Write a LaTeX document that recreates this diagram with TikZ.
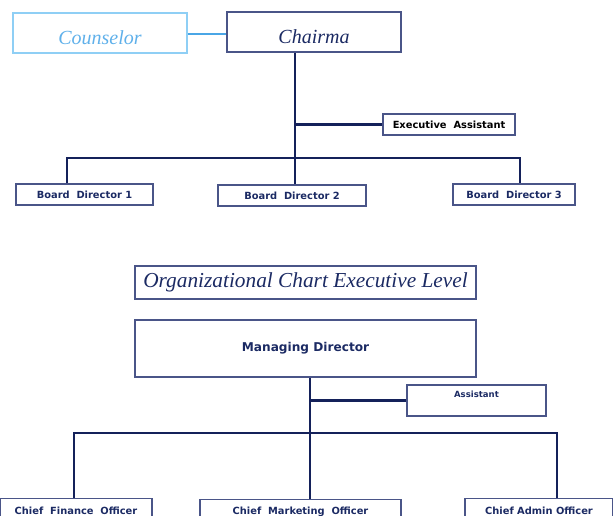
\documentclass[tikz,border=0pt]{standalone}
\usepackage{fontspec}
\setmainfont{Liberation Serif}
\newfontfamily\boxfont{DejaVu Sans}
\usepackage{tikz}

\definecolor{navy}{HTML}{14215A}
\definecolor{boxline}{HTML}{4A5588}
\definecolor{navytext}{HTML}{1B2A63}
\definecolor{skyline}{HTML}{8FCFF5}
\definecolor{skytext}{HTML}{5FB0EA}
\definecolor{skylink}{HTML}{4AA6E6}

\begin{document}
\begin{tikzpicture}[x=0.75pt, y=-0.75pt,
        every node/.style={rectangle, draw=boxline, line width=0.9pt, inner sep=0pt, text=navytext},
        post/.style={font=\boxfont\bfseries\fontsize{7.4}{9}\selectfont},
        head/.style={font=\itshape\fontsize{15}{18}\selectfont, text height=18pt, text depth=0pt},
        link/.style={draw=navy, line width=1.8pt}]
        \useasboundingbox (0,0) rectangle (613,516);
        \clip (0,0) rectangle (613,516);
        % Vertices
        \node[head, draw=skyline, text=skytext, minimum width=130.5pt, minimum height=30pt] (Couns) at (100,33) {Counselor};
        \node[head, minimum width=130.5pt, minimum height=30pt] (Chair) at (314,32) {Chairma};
        \node[post, text=black, minimum width=99pt, minimum height=15.75pt] (Exec) at (449,124.5) {Executive\ \ Assistant};
        \node[post, minimum width=102.75pt, minimum height=15.75pt] (BD1) at (84.5,194.5) {Board\ \ Director 1};
        \node[post, minimum width=111pt, minimum height=15.75pt] (BD2) at (292,195.5) {Board\ \ Director 2};
        \node[post, minimum width=91.5pt, minimum height=15.75pt] (BD3) at (514,194.5) {Board\ \ Director 3};

        \node[font=\itshape\fontsize{16}{20}\selectfont, minimum width=255.75pt, minimum height=24.75pt] (Title) at (305.5,282.5) {Organizational Chart Executive Level};
        \node[post, font=\boxfont\bfseries\fontsize{9.1}{11}\selectfont, minimum width=255.75pt, minimum height=42.75pt] (MD) at (305.5,348.5) {Managing\ Director};
        \node[post, font=\boxfont\bfseries\fontsize{6.4}{8}\selectfont, text height=6pt, text depth=10pt, inner ysep=3.6pt, minimum width=104.25pt] (Asst) at (476.5,400.5) {Assistant};
        \node[post, anchor=north, text height=6pt, text depth=10pt, inner ysep=5.6pt, minimum width=114pt] (CFO) at (76,498) {Chief\ \ Finance\ \ Officer};
        \node[post, anchor=north, text height=6pt, text depth=10pt, inner ysep=4.9pt, minimum width=150.75pt] (CMO) at (300.5,499) {Chief\ \ Marketing\ \ Officer};
        \node[post, anchor=north, text height=6pt, text depth=10pt, inner ysep=5.6pt, minimum width=111pt] (CAO) at (539,498) {Chief Admin Officer};

        % Bus points
        \coordinate (hubA) at (295,158);
        \coordinate (busAL) at (67,158);
        \coordinate (busAR) at (520,158);
        \coordinate (hubB) at (310,433);
        \coordinate (busBL) at (74,433);
        \coordinate (busBR) at (557,433);

        % Edges
        \draw[draw=skylink, line width=1.8pt] (Couns.east |- 0,34) -- (Chair.west |- 0,34);
        \draw[link] (Chair.south -| hubA) -- (BD2.north -| hubA);
        \draw[link] (Exec.west) -- (Exec.west -| hubA);
        \draw[link] (BD1.north -| busAL) -- (busAL) -- (busAR) -- (BD3.north -| busAR);

        \draw[link] (MD.south -| hubB) -- (CMO.north -| hubB);
        \draw[link] (Asst.west) -- (Asst.west -| hubB);
        \draw[link] (CFO.north -| busBL) -- (busBL) -- (busBR) -- (CAO.north -| busBR);
    \end{tikzpicture}
\end{document}
